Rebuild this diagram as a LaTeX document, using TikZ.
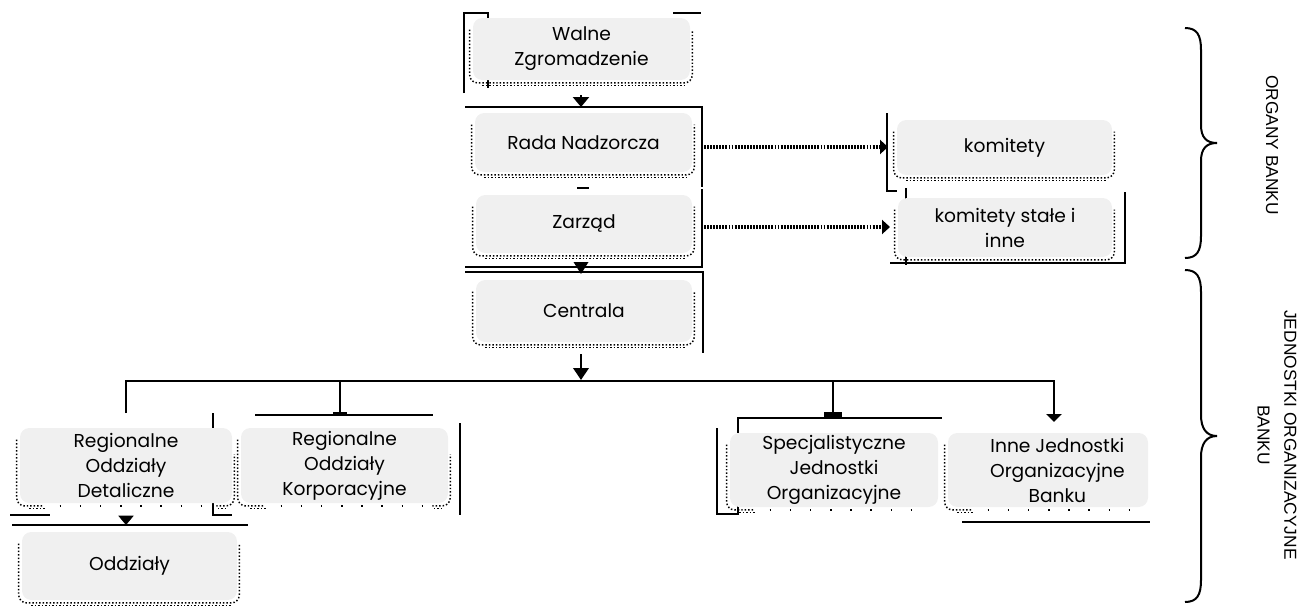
\documentclass[tikz,border=0pt]{standalone}
\usepackage{fontspec}
\setmainfont{Poppins}
\newfontfamily\arialf{Liberation Sans}
\usetikzlibrary{arrows.meta,backgrounds}
\definecolor{boxgray}{RGB}{240,240,240}
\tikzset{
  box/.style={fill=boxgray, rounded corners=7pt, inner sep=0pt, align=center,
    font=\fontsize{14}{18.75}\selectfont, text=black},
  thinl/.style={line width=0.9pt},
  busl/.style={line width=2pt},
  shdl/.style={line width=1.1pt, dash pattern=on 1.1pt off 1.5pt, black},
  sparse/.style={line width=1.1pt, dash pattern=on 1.1pt off 14pt, black},
  dotarrow/.style={line width=2.4pt, dash pattern=on 1.4pt off 0.9pt,
    -{Triangle[width=10.5pt,length=6pt]}},
  bracetext/.style={font=\arialf\fontsize{13}{20}\selectfont, rotate=-90, align=center}
}
\newcommand{\shdw}[1]{%
  \draw[shdl, rounded corners=6pt] ([xshift=-2.3pt,yshift=-9pt]#1.north west) -- ([xshift=-2.3pt,yshift=-2pt]#1.south west) -- ([xshift=1.5pt,yshift=-2pt]#1.south east) -- ([xshift=1.5pt,yshift=-9pt]#1.north east);
  \draw[shdl, dash phase=1.3pt] ([xshift=6pt,yshift=-3.8pt]#1.south west) -- ([xshift=-5pt,yshift=-3.8pt]#1.south east);}
\newcommand{\shdwb}[1]{%
  \draw[shdl, rounded corners=6pt] ([xshift=-2.3pt,yshift=-9pt]#1.north west) -- ([xshift=-2.3pt,yshift=-2pt]#1.south west) -- ([xshift=18pt,yshift=-2pt]#1.south west);
  \draw[shdl, dash phase=1.3pt] ([xshift=6pt,yshift=-3.8pt]#1.south west) -- ([xshift=20pt,yshift=-3.8pt]#1.south west);
  \draw[sparse] ([xshift=30pt,yshift=-2pt]#1.south west) -- ([xshift=-12pt,yshift=-2pt]#1.south east);}
\newcommand{\shdwr}[1]{%
  \draw[shdl, rounded corners=6pt] ([xshift=-12pt,yshift=-2pt]#1.south east) -- ([xshift=1.5pt,yshift=-2pt]#1.south east) -- ([xshift=1.5pt,yshift=-20pt]#1.north east);
  \draw[shdl, dash phase=1.3pt] ([xshift=-12pt,yshift=-3.8pt]#1.south east) -- ([xshift=-3pt,yshift=-3.8pt]#1.south east);}
\begin{document}
\begin{tikzpicture}[x=0.75pt,y=-0.75pt]
\useasboundingbox (0,0) rectangle (1316,607);

% boxes
\node[box, minimum width=162.75pt, minimum height=46.5pt] (wz) at (581.5,49) {Walne\\Zgromadzenie};
\node[box, minimum width=162.75pt, minimum height=44.25pt] (rn) at (583.5,142.5) {Rada Nadzorcza};
\node[box, minimum width=162pt, minimum height=43.5pt] (zr) at (584,224) {Zarząd};
\node[box, minimum width=162pt, minimum height=46.5pt] (ce) at (584,311) {Centrala};
\node[box, minimum width=161.25pt, minimum height=41.25pt] (k1) at (1004.5,147.5) {komitety};
\node[box, minimum width=160.5pt, minimum height=44.25pt] (k2) at (1005,227.5) {komitety stałe i\\inne};
\node[box, minimum width=159pt, minimum height=56.25pt] (rod) at (126,465.5) {Regionalne\\Oddziały\\Detaliczne};
\node[box, minimum width=155.25pt, minimum height=56.25pt] (rok) at (344.5,465.5) {Regionalne\\Oddziały\\Korporacyjne};
\node[box, minimum width=161.25pt, minimum height=51pt] (od) at (129.5,566) {Oddziały};
\node[box, minimum width=156pt, minimum height=55.5pt] (sjo) at (834,470) {Specjalistyczne\\Jednostki\\Organizacyjne};
\node[box, minimum width=150pt, minimum height=55.5pt] (ijo) at (1048,470) {\hspace*{14pt}Inne Jednostki\\\hspace*{14pt}Organizacyjne\\\hspace*{14pt}Banku};

\begin{pgfonlayer}{background}
  \shdw{wz}\shdw{rn}\shdw{zr}\shdw{ce}\shdw{k1}\shdw{k2}\shdw{od}
  \shdwb{rod}\shdwr{rod}\shdwb{rok}\shdwr{rok}\shdwb{sjo}\shdwb{ijo}
  % bracket lines
  \draw[thinl] (464,93) -- (464,13) -- (488,13) -- (488,19);
  \draw[thinl] (488,80) -- (488,88);
  \draw[thinl] (673,13) -- (701,13);
  \draw[thinl] (465,107) -- (702,107) -- (702,187);
  \draw[thinl] (702,189) -- (702,267) -- (465,267);
  \draw[thinl] (465,272) -- (703,272) -- (703,353);
  \draw[thinl] (887,113) -- (887,191) -- (897,191);
  \draw[thinl] (906,188) -- (906,265);
  \draw[thinl] (1125,192) -- (1125,263) -- (890,263);
  \draw[thinl] (213,413) -- (213,515) -- (232,515);
  \draw[thinl] (10,515) -- (50,515);
  \draw[thinl] (12,525) -- (248,525);
  \draw[thinl] (255,415) -- (433,415);
  \draw[thinl] (460,423) -- (460,515);
  \draw[thinl] (738,433) -- (738,418) -- (942,418);
  \draw[thinl] (738,505) -- (738,514) -- (717,514) -- (717,428);
  \draw[thinl] (962,522) -- (1150,522);
\end{pgfonlayer}

% connectors
\coordinate (a1s) at (581,95);  \coordinate (a1e) at (581,107);
\draw[line width=1.8pt, -{Triangle[width=12pt,length=7.5pt]}] (a1s) -- (a1e);
\draw[line width=1.3pt] (577,188) -- (589,188);
\coordinate (a3s) at (581,262); \coordinate (a3e) at (581,274);
\draw[line width=1pt, -{Triangle[width=11pt,length=9pt]}] (a3s) -- (a3e);
\coordinate (a4s) at (581,354); \coordinate (a4e) at (581,380);
\draw[busl, -{Triangle[width=11.5pt,length=9pt]}] (a4s) -- (a4e);
\coordinate (bL) at (126,413); \coordinate (bR) at (1054,422);
\draw[busl, -{Triangle[width=11.5pt,length=6pt]}] (bL) -- (126,381) -- (1054,381) -- (bR);
\draw[busl] (340,381) -- (340,413);
\fill (333,412) rectangle (347,416);
\draw[busl] (833,381) -- (833,413);
\fill (824,412) rectangle (842,417);
\coordinate (a5s) at (126,516); \coordinate (a5e) at (126,525);
\draw[line width=0.5pt, -{Triangle[width=11.5pt,length=7pt]}] (a5s) -- (a5e);
\coordinate (d1s) at (704,147); \coordinate (d1e) at (888,147);
\draw[dotarrow] (d1s) -- (d1e);
\coordinate (d2s) at (704,227); \coordinate (d2e) at (890,227);
\draw[dotarrow] (d2s) -- (d2e);

% braces
\draw[line width=1.5pt] (1185,28) .. controls (1197,28) and (1201,35) .. (1201,50) -- (1201,125)
  .. controls (1201,137) and (1206,143) .. (1217,143)
  .. controls (1206,143) and (1201,149) .. (1201,161) -- (1201,236)
  .. controls (1201,251) and (1197,258) .. (1185,258);
\draw[line width=1.5pt] (1185,270) .. controls (1197,270) and (1201,277) .. (1201,292) -- (1201,415)
  .. controls (1201,428) and (1206,436) .. (1217,436)
  .. controls (1206,436) and (1201,444) .. (1201,457) -- (1201,580)
  .. controls (1201,595) and (1197,602) .. (1185,602);
\node[bracetext] (t1) at (1272,145) {ORGANY BANKU};
\node[bracetext] (t2) at (1277,435) {JEDNOSTKI ORGANIZACYJNE\\BANKU};
\end{tikzpicture}
\end{document}
